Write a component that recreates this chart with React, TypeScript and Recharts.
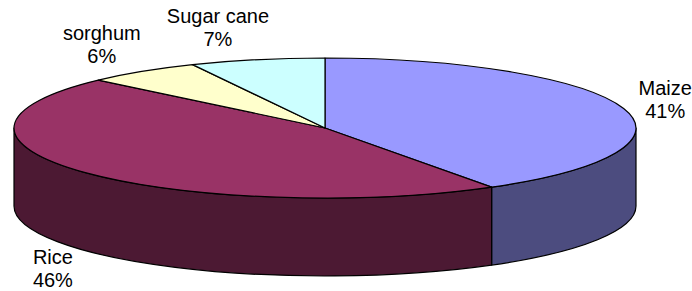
import React from 'react';
import { PieChart, Pie, Cell } from 'recharts';

const CATEGORIES = ['Maize', 'Rice', 'sorghum', 'Sugar cane'];
const VALUES = [41, 46, 6, 7];
const TOP_COLORS = ['#9999FF', '#993366', '#FFFFCC', '#CCFFFF'];
const SIDE_COLORS = ['#4C4C7F', '#4C1933', '#80806A', '#6A8080'];

const data = CATEGORIES.map((name, i) => ({ name, value: VALUES[i] }));

const W = 692;
const H = 291;
const CX = 325;
const CY = 128;
const RX = 311;
const TILT = 70 / 311;
const DEPTH = 78;
const RAD = Math.PI / 180;
const FONT = "'Liberation Sans', Arial, sans-serif";
const FS = 20;

function pt(cx: number, cy: number, rx: number, ry: number, a: number) {
  return [cx + rx * Math.cos(a * RAD), cy - ry * Math.sin(a * RAD)];
}

let ctx: any = null;
function textW(s: string) {
  try {
    if (!ctx) ctx = document.createElement('canvas').getContext('2d');
    ctx.font = `${FS}px ${FONT}`;
    return ctx.measureText(s).width;
  } catch (e) {
    return s.length * FS * 0.55;
  }
}

function EllipseSector(props: any) {
  const { cx, cy, outerRadius, startAngle, endAngle, payload, name } = props;
  const rx = outerRadius;
  const ry = outerRadius * TILT;
  const nm = (payload && payload.name) || name;
  const idx = Math.max(0, CATEGORIES.indexOf(nm));
  const hi = Math.max(startAngle, endAngle);
  const lo = Math.min(startAngle, endAngle);
  const [x1, y1] = pt(cx, cy, rx, ry, hi);
  const [x2, y2] = pt(cx, cy, rx, ry, lo);
  const large = hi - lo > 180 ? 1 : 0;
  const top = `M${cx},${cy} L${x1},${y1} A${rx},${ry} 0 ${large} 1 ${x2},${y2} Z`;
  const sides: string[] = [];
  for (const k of [-1, 0, 1]) {
    const sHi = Math.min(hi, 360 * k);
    const sLo = Math.max(lo, -180 + 360 * k);
    if (sHi > sLo + 0.01) {
      const [a1, b1] = pt(cx, cy, rx, ry, sHi);
      const [a2, b2] = pt(cx, cy, rx, ry, sLo);
      sides.push(
        `M${a1},${b1} A${rx},${ry} 0 0 1 ${a2},${b2} L${a2},${b2 + DEPTH} A${rx},${ry} 0 0 0 ${a1},${b1 + DEPTH} Z`
      );
    }
  }
  return (
    <g>
      {sides.map((d, i) => (
        <path key={i} d={d} fill={SIDE_COLORS[idx]} stroke="#000" strokeWidth={1.2} strokeLinejoin="round" />
      ))}
      <path d={top} fill={TOP_COLORS[idx]} stroke="#000" strokeWidth={1.2} strokeLinejoin="round" />
    </g>
  );
}

function renderLabel(p: any) {
  const { cx, cy, midAngle, outerRadius, percent, name } = p;
  const c = Math.cos(midAngle * RAD);
  const s = Math.sin(midAngle * RAD);
  const lx = outerRadius * (336 / 311);
  const ly = outerRadius * TILT * (103 / 70);
  const pct = `${Math.round(percent * 100)}%`;
  const w = Math.max(textW(name), textW(pct));
  const xc = cx + lx * c + Math.sign(c) * 0.33 * w;
  const yc = cy - ly * s + (s < 0 ? DEPTH - 3 : 0);
  return (
    <g>
      <text x={xc} y={yc - 4.5} textAnchor="middle" fontFamily={FONT} fontSize={FS} fill="#000">
        {name}
      </text>
      <text x={xc} y={yc + 18.5} textAnchor="middle" fontFamily={FONT} fontSize={FS} fill="#000">
        {pct}
      </text>
    </g>
  );
}

export default function App() {
  return (
    <div style={{ position: 'absolute', left: 0, top: 0, width: W, height: H, background: '#fff' }}>
      <PieChart width={W} height={H} margin={{ top: 0, right: 0, bottom: 0, left: 0 }}>
        <Pie
          data={data}
          dataKey="value"
          nameKey="name"
          cx={CX}
          cy={CY}
          innerRadius={0}
          outerRadius={RX}
          startAngle={90}
          endAngle={-270}
          isAnimationActive={false}
          shape={EllipseSector}
          activeShape={EllipseSector}
          inactiveShape={EllipseSector}
          label={renderLabel}
          labelLine={false}
          stroke="#000"
        >
          {data.map((d, i) => (
            <Cell key={d.name} fill={TOP_COLORS[i]} />
          ))}
        </Pie>
      </PieChart>
    </div>
  );
}
